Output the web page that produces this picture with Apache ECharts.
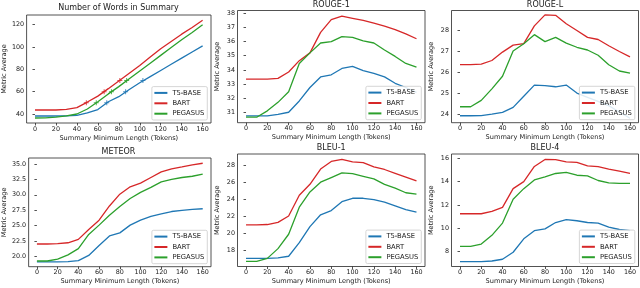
<!DOCTYPE html>
<html><head><meta charset="utf-8">
<script src="https://cdn.jsdelivr.net/npm/echarts@6/dist/echarts.min.js"></script>
<style>html,body{margin:0;padding:0;background:#fff}#c{width:640px;height:288px}</style>
</head><body><div id="c"></div>
<script>
// ---------- data ----------
const minLength = [0,10,20,30,40,50,60,70,80,90,100,110,120,130,140,150,160];
const xTickLabels = [0,20,40,60,80,100,120,140,160];
const modelNames = ['T5-BASE','BART','PEGASUS'];
const panelTitles = ['Number of Words in Summary','ROUGE-1','ROUGE-L','METEOR','BLEU-1','BLEU-4'];

const wordsT5   = [38.2,38.2,38.2,38.3,38.8,41,44,51,55.5,62,68,73.5,79,84.5,90,95.5,101];
const wordsBART = [43.6,43.6,43.6,44.2,45.7,50.7,56,62.7,69.5,76.5,83.5,91,98.5,105,111.5,117.5,124];
const wordsPEG  = [36.4,36.6,37.2,38.3,40,44.5,51,58,64.5,71.5,78.5,85.5,92.5,99.5,106.5,113,120];
const wordsMarksT5   = [[68.5,50],[86.5,60],[103,70]];
const wordsMarksBART = [[49,50],[66,60],[81,70]];
const wordsMarksPEG  = [[58.5,50],[73,60],[87.5,70]];

const rouge1T5   = [30.75,30.75,30.75,30.85,31.0,31.8,32.75,33.5,33.65,34.1,34.25,33.95,33.75,33.5,33.05,32.75,32.4];
const rouge1BART = [33.35,33.35,33.35,33.4,33.85,34.65,35.2,36.65,37.55,37.8,37.65,37.5,37.3,37.1,36.85,36.55,36.2];
const rouge1PEG  = [30.65,30.65,31.1,31.7,32.45,34.45,35.2,35.9,36.0,36.35,36.3,36.05,35.9,35.4,34.95,34.45,34.2];

const rougeLT5   = [23.92,23.92,23.93,24.0,24.08,24.32,24.85,25.38,25.35,25.3,25.38,25.0,24.8,24.6,24.4,24.1,23.8];
const rougeLBART = [26.35,26.35,26.38,26.55,26.95,27.28,27.35,28.2,28.72,28.7,28.3,27.98,27.65,27.55,27.25,26.98,26.72];
const rougeLPEG  = [24.35,24.35,24.65,25.2,25.8,27.0,27.35,27.78,27.45,27.65,27.38,27.18,27.05,26.8,26.35,26.05,25.95];

const meteorT5   = [19.15,19.15,19.15,19.2,19.35,20.2,21.8,23.35,23.85,25.1,25.9,26.5,26.9,27.3,27.5,27.65,27.75];
const meteorBART = [22.05,22.05,22.1,22.25,22.8,24.4,25.9,28.2,30.1,31.3,31.9,32.8,33.7,34.2,34.5,34.85,35.1];
const meteorPEG  = [19.3,19.3,19.6,20.3,21.3,23.6,25.1,26.7,28.1,29.4,30.4,31.2,32.1,32.5,32.8,33.0,33.35];

const bleu1T5   = [17.05,17.05,17.05,17.1,17.3,18.9,20.8,22.2,22.7,23.75,24.15,24.15,23.98,23.7,23.25,22.8,22.5];
const bleu1BART = [21.0,21.0,21.05,21.3,22.05,24.5,25.8,27.6,28.5,28.75,28.45,28.35,27.85,27.55,27.1,26.65,26.2];
const bleu1PEG  = [16.7,16.7,17.05,18.2,19.9,23.1,24.9,26.05,26.6,27.15,27.05,26.75,26.45,25.8,25.35,24.8,24.65];

const bleu4T5   = [7.15,7.15,7.15,7.2,7.35,7.95,9.1,9.8,9.95,10.5,10.75,10.65,10.5,10.45,10.1,9.9,9.8];
const bleu4BART = [11.25,11.25,11.25,11.45,11.8,13.4,14.0,15.3,15.9,15.88,15.7,15.65,15.35,15.28,15.08,14.9,14.7];
const bleu4PEG  = [8.45,8.45,8.65,9.4,10.45,12.5,13.4,14.15,14.4,14.7,14.8,14.55,14.5,14.1,13.9,13.85,13.85];

const wordsTicks  = [40,60,80,100,120];
const rouge1Ticks = [31,32,33,34,35,36,37,38];
const rougeLTicks = [24,25,26,27,28];
const meteorTicks = [20,22.5,25,27.5,30,32.5,35];
const bleu1Ticks  = [18,20,22,24,26,28];
const bleu4Ticks  = [8,10,12,14,16];

// ---------- layout ----------
const FONT = 'DejaVu Sans';
const TXT = '#1a1a1a';
const colors = ['#1f77b4','#d62728','#2ca02c'];
const panels = [
  {series:[wordsT5,wordsBART,wordsPEG], ticks:wordsTicks, min:31.94, max:128.66, dec:0, g:{left:26,top:15,width:185,height:108}, tTop:4},
  {series:[rouge1T5,rouge1BART,rouge1PEG], ticks:rouge1Ticks, min:30.26, max:38.2, dec:0, g:{left:237.5,top:10.5,width:187.5,height:112.2}, tTop:1},
  {series:[rougeLT5,rougeLBART,rougeLPEG], ticks:rougeLTicks, min:23.59, max:28.93, dec:0, g:{left:451.5,top:10.5,width:187,height:112.2}, tTop:1},
  {series:[meteorT5,meteorBART,meteorPEG], ticks:meteorTicks, min:18.38, max:35.95, dec:1, g:{left:26,top:158,width:185,height:108.7}, tTop:147.5},
  {series:[bleu1T5,bleu1BART,bleu1PEG], ticks:bleu1Ticks, min:16.09, max:29.38, dec:0, g:{left:237.5,top:154,width:187.5,height:112.5}, tTop:143.5},
  {series:[bleu4T5,bleu4BART,bleu4PEG], ticks:bleu4Ticks, min:6.73, max:16.37, dec:0, g:{left:451.5,top:154,width:187,height:112.5}, tTop:143.5}
];

const option = {animation:false, backgroundColor:'#fff', title:[], grid:[], xAxis:[], yAxis:[], legend:[], series:[]};
panels.forEach((p,i)=>{
  const g = p.g;
  option.grid.push({left:g.left, top:g.top, width:g.width, height:g.height, show:true, borderColor:'#262626', borderWidth:0.8, backgroundColor:'transparent', containLabel:false});
  option.title.push({text:panelTitles[i], left:g.left+g.width/2, top:p.tTop, textAlign:'center', padding:0,
    textStyle:{fontFamily:FONT, fontSize:8, fontWeight:'normal', color:TXT}});
  option.xAxis.push({type:'value', gridIndex:i, min:-8, max:168,
    name:'Summary Minimum Length (Tokens)', nameLocation:'middle', nameGap:11.5,
    nameTextStyle:{fontFamily:FONT, fontSize:6.6, color:TXT},
    axisLine:{show:false}, splitLine:{show:false},
    axisTick:{show:true, length:2.5, customValues:xTickLabels, lineStyle:{color:'#262626', width:0.8}},
    axisLabel:{show:true, customValues:xTickLabels, margin:3, fontFamily:FONT, fontSize:6.4, color:TXT}});
  option.yAxis.push({type:'value', gridIndex:i, min:p.min, max:p.max,
    name:'Metric Average', nameLocation:'middle', nameRotate:90, nameGap:17,
    nameTextStyle:{fontFamily:FONT, fontSize:6.6, color:TXT},
    axisLine:{show:false}, splitLine:{show:false},
    axisTick:{show:true, length:2.5, customValues:p.ticks, lineStyle:{color:'#262626', width:0.8}},
    axisLabel:{show:true, customValues:p.ticks, margin:2.5, fontFamily:FONT, fontSize:6.4, color:TXT,
      formatter:(v)=>p.dec? v.toFixed(p.dec) : String(Math.round(v))}});
  option.legend.push({orient:'vertical', data:modelNames,
    right:640-(g.left+g.width-3.7), bottom:288-(g.top+g.height-3),
    padding:[2.3,3,2.3,2.5], itemGap:2.4, itemWidth:13, itemHeight:2, icon:'rect',
    backgroundColor:'rgba(255,255,255,0.85)', borderColor:'#cccccc', borderWidth:0.8, borderRadius:1.5,
    textStyle:{fontFamily:FONT, fontSize:6.8, color:TXT, lineHeight:8, padding:[0,0,0,0]},
    selectedMode:false, z:10});
  p.series.forEach((arr,k)=>{
    option.series.push({type:'line', name:modelNames[k], xAxisIndex:i, yAxisIndex:i,
      data:minLength.map((x,j)=>[x,arr[j]]), showSymbol:false, symbol:'none',
      lineStyle:{color:colors[k], width:1.3}, itemStyle:{color:colors[k]}, z:2+k, silent:true});
  });
});
const plusPath = 'path://M-0.6,-3 H0.6 V-0.6 H3 V0.6 H0.6 V3 H-0.6 V0.6 H-3 V-0.6 H-0.6 Z';
[wordsMarksT5, wordsMarksBART, wordsMarksPEG].forEach((m,k)=>{
  option.series.push({type:'scatter', name:modelNames[k]+' marks', xAxisIndex:0, yAxisIndex:0,
    data:m, symbol:plusPath, symbolSize:5, itemStyle:{color:colors[k]}, z:6, silent:true});
});
const chart = echarts.init(document.getElementById('c'), null, {renderer:'canvas'});
chart.setOption(option);
</script></body></html>
